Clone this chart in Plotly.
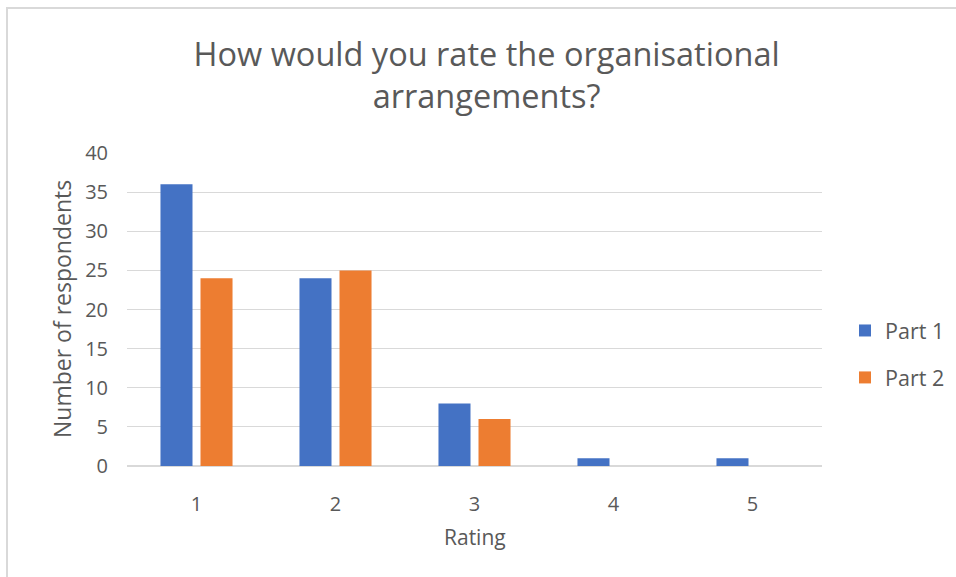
import plotly.graph_objects as go

ratings = ["1", "2", "3", "4", "5"]
part1 = [36, 24, 8, 1, 1]
part2 = [24, 25, 6, 0, 0]
series_names = ["Part 1", "Part 2"]
colors = ["#4472C4", "#ED7D31"]
y_ticks = [0, 5, 10, 15, 20, 25, 30, 35, 40]

FONT = "Open Sans"
GRAY = "#595959"

fig = go.Figure()
for name, vals, col in zip(series_names, [part1, part2], colors):
    fig.add_trace(go.Bar(x=ratings, y=vals, name=name, legendgroup=name,
                         marker=dict(color=col, line=dict(width=0))))

W, H = 956, 577
ml, mr, mt, mb = 127, 134, 153, 111
pw = W - ml - mr
ph = H - mt - mb

fig.update_layout(
    width=W, height=H,
    margin=dict(l=ml, r=mr, t=mt, b=mb, autoexpand=False),
    paper_bgcolor="white", plot_bgcolor="white",
    barmode="group", bargap=0.424, bargroupgap=0.2,
    font=dict(family=FONT, color=GRAY, size=20),
    title=dict(text="How would you rate the organisational<br>arrangements?",
               x=0.509, xanchor="center", y=1 - 66 / H, yanchor="middle",
               font=dict(family=FONT, size=32.5, color=GRAY)),
    xaxis=dict(type="category", showgrid=False, showline=False, ticks="",
               automargin=False, ticklabelstandoff=24,
               tickfont=dict(size=20, color=GRAY)),
    yaxis=dict(range=[0, 40], tickvals=y_ticks, showgrid=True, gridcolor="#D9D9D9", gridwidth=1,
               zeroline=True, zerolinecolor="#D9D9D9", zerolinewidth=1.5,
               showline=False, ticks="", automargin=False, ticklabelstandoff=18,
               tickfont=dict(size=20, color=GRAY)),
    legend=dict(x=(845 - ml) / pw, y=(H - mb - 354) / ph, xanchor="left", yanchor="middle",
                font=dict(size=21.5, color=GRAY), itemwidth=30, tracegroupgap=16,
                bgcolor="rgba(0,0,0,0)"),
    annotations=[
        dict(text="Rating", xref="paper", yref="paper", x=(475 - ml) / pw, y=(H - mb - 537) / ph,
             xanchor="center", yanchor="middle", showarrow=False, font=dict(size=21, color=GRAY)),
        dict(text="Number of respondents", xref="paper", yref="paper", x=(62 - ml) / pw,
             y=(H - mb - 309) / ph, xanchor="center", yanchor="middle", textangle=-90,
             showarrow=False, font=dict(size=23, color=GRAY)),
    ],
    shapes=[dict(type="rect", xref="paper", yref="paper",
                 x0=(7 - ml) / pw, x1=(W + 20 - ml) / pw,
                 y0=(H - mb - (H + 20)) / ph, y1=(H - mb - 8) / ph,
                 line=dict(color="#D9D9D9", width=2), layer="below")],
)

fig.write_html("out.html", config={"displayModeBar": False},
               post_script="document.body.style.margin='0';document.body.style.overflow='hidden';")
